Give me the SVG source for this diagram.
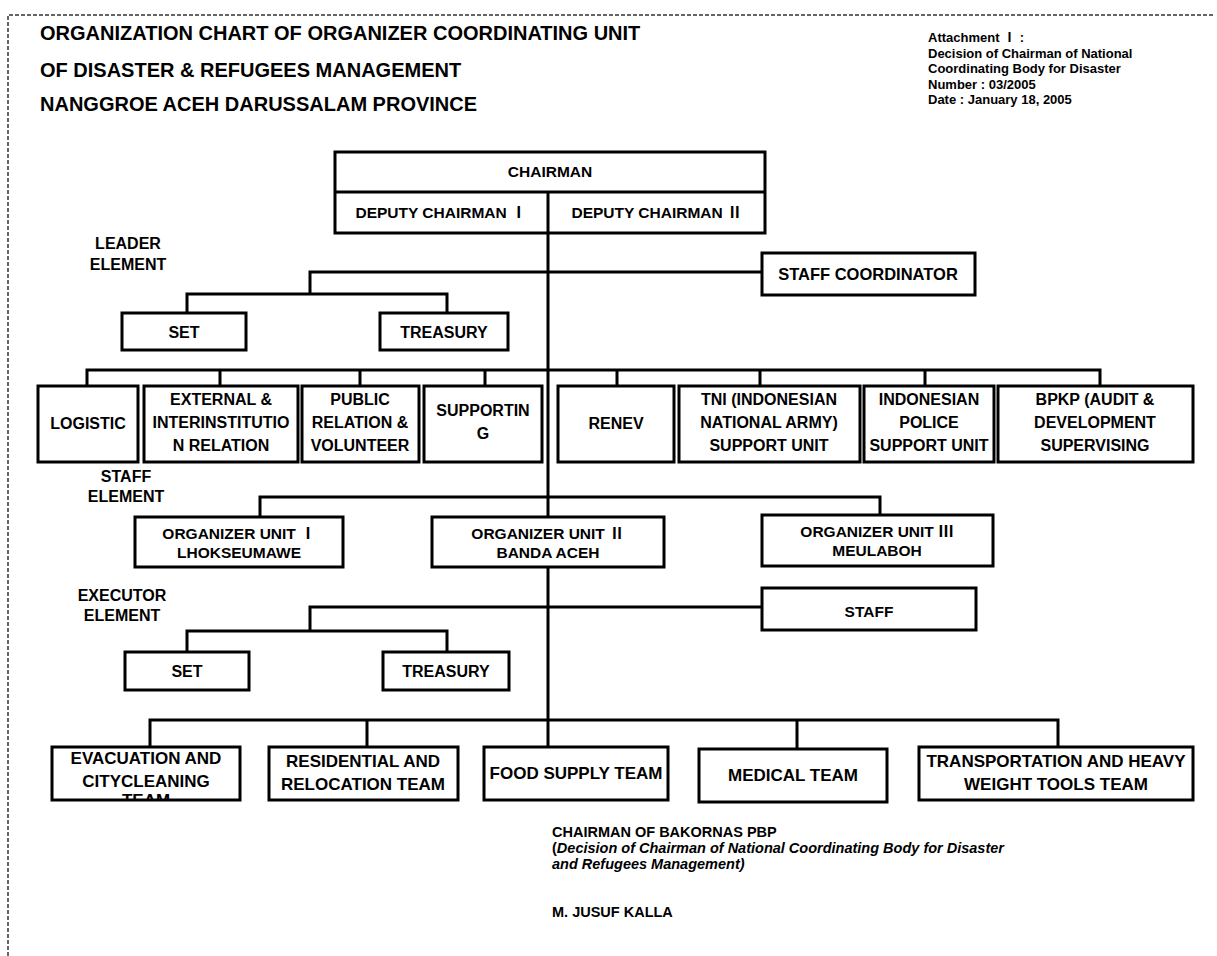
<svg xmlns="http://www.w3.org/2000/svg" width="1217" height="956" viewBox="0 0 1217 956">
<defs>
<style>
.box{fill:#fff;stroke:#000;stroke-width:3}
.ln{fill:none;stroke:#000;stroke-width:3}
text{font-family:"Liberation Sans","Noto Sans CJK JP",Arial,sans-serif;font-weight:bold;fill:#000}
.c{text-anchor:middle}
.ti{font-size:20px}
.g{font-size:16px}
.tm{font-size:17px}
.m{font-size:15.5px}
.a{font-size:13px}
.f{font-size:14.5px}
.it{font-style:italic}
</style>
<clipPath id="clipEvac"><rect x="53" y="748" width="186" height="51"/></clipPath>
</defs>
<rect width="1217" height="956" fill="#fff"/>
<path d="M8,956 V15 H1213" fill="none" stroke="#333" stroke-width="1.5" stroke-dasharray="4 2"/>

<g id="title">
<text class="ti" x="40" y="40">ORGANIZATION CHART OF ORGANIZER COORDINATING UNIT</text>
<text class="ti" x="40" y="77">OF DISASTER &amp; REFUGEES MANAGEMENT</text>
<text class="ti" x="40" y="111">NANGGROE ACEH DARUSSALAM PROVINCE</text>
</g>

<g id="attachment">
<text class="a" x="928" y="42">Attachment Ⅰ  :</text>
<text class="a" x="928" y="58">Decision of Chairman of National</text>
<text class="a" x="928" y="73">Coordinating Body for Disaster</text>
<text class="a" x="928" y="89">Number : 03/2005</text>
<text class="a" x="928" y="104">Date : January 18, 2005</text>
</g>

<g id="connectors">
<path class="ln" d="M548,233 V751"/>
<path class="ln" d="M310,294 V272 H762"/>
<path class="ln" d="M187,313 V294 H447 V313"/>
<path class="ln" d="M87,386 V370 H1100 V386"/>
<path class="ln" d="M220,370 V386 M360,370 V386 M485,370 V386 M617,370 V386 M760,370 V386 M925,370 V386"/>
<path class="ln" d="M260,517 V497 H880 V515"/>
<path class="ln" d="M310,631 V607 H762"/>
<path class="ln" d="M187,652 V631 H447 V652"/>
<path class="ln" d="M150,747 V720 H1058 V747"/>
<path class="ln" d="M367,720 V747 M797,720 V749"/>
</g>

<g id="chairman">
<rect class="box" x="335" y="152" width="430" height="81"/>
<path class="ln" d="M335,192 H765 M548,192 V233"/>
<text class="m c" x="550" y="177">CHAIRMAN</text>
<text class="m c" x="441" y="218">DEPUTY CHAIRMAN Ⅰ</text>
<text class="m c" x="657" y="218">DEPUTY CHAIRMAN Ⅱ</text>
</g>

<g id="leader-label">
<text class="g c" x="128" y="249">LEADER</text>
<text class="g c" x="128" y="270">ELEMENT</text>
</g>

<g id="staff-coordinator">
<rect class="box" x="762" y="253" width="213" height="42"/>
<text class="c" style="font-size:16.5px" x="868" y="280">STAFF COORDINATOR</text>
</g>

<g id="leader-set">
<rect class="box" x="122" y="313" width="124" height="37"/>
<text class="g c" x="184" y="338">SET</text>
</g>
<g id="leader-treasury">
<rect class="box" x="380" y="313" width="128" height="37"/>
<text class="g c" x="444" y="338">TREASURY</text>
</g>

<g id="logistic">
<rect class="box" x="38" y="386" width="100" height="76"/>
<text class="g c" x="88" y="429">LOGISTIC</text>
</g>
<g id="external">
<rect class="box" x="144" y="386" width="154" height="76"/>
<text class="g c" x="221" y="405">EXTERNAL &amp;</text>
<text class="g c" x="221" y="428">INTERINSTITUTIO</text>
<text class="g c" x="221" y="451">N RELATION</text>
</g>
<g id="public-relation">
<rect class="box" x="302" y="386" width="117" height="76"/>
<text class="g c" x="360" y="405">PUBLIC</text>
<text class="g c" x="360" y="428">RELATION &amp;</text>
<text class="g c" x="360" y="451">VOLUNTEER</text>
</g>
<g id="supporting">
<rect class="box" x="424" y="386" width="118" height="76"/>
<text class="g c" x="483" y="416">SUPPORTIN</text>
<text class="g c" x="483" y="439">G</text>
</g>
<g id="renev">
<rect class="box" x="558" y="386" width="116" height="76"/>
<text class="g c" x="616" y="429">RENEV</text>
</g>
<g id="tni">
<rect class="box" x="679" y="386" width="181" height="76"/>
<text class="g c" x="769" y="405">TNI (INDONESIAN</text>
<text class="g c" x="769" y="428">NATIONAL ARMY)</text>
<text class="g c" x="769" y="451">SUPPORT UNIT</text>
</g>
<g id="police">
<rect class="box" x="864" y="386" width="130" height="76"/>
<text class="g c" x="929" y="405">INDONESIAN</text>
<text class="g c" x="929" y="428">POLICE</text>
<text class="g c" x="929" y="451">SUPPORT UNIT</text>
</g>
<g id="bpkp">
<rect class="box" x="998" y="386" width="195" height="76"/>
<text class="g c" x="1095" y="405">BPKP (AUDIT &amp;</text>
<text class="g c" x="1095" y="428">DEVELOPMENT</text>
<text class="g c" x="1095" y="451">SUPERVISING</text>
</g>

<g id="staff-label">
<text class="g c" x="126" y="482">STAFF</text>
<text class="g c" x="126" y="502">ELEMENT</text>
</g>

<g id="org-unit-1">
<rect class="box" x="135" y="517" width="208" height="50"/>
<text class="m c" x="239" y="539">ORGANIZER UNIT Ⅰ</text>
<text class="m c" x="239" y="558">LHOKSEUMAWE</text>
</g>
<g id="org-unit-2">
<rect class="box" x="432" y="517" width="232" height="50"/>
<text class="m c" x="548" y="539">ORGANIZER UNIT Ⅱ</text>
<text class="m c" x="548" y="558">BANDA ACEH</text>
</g>
<g id="org-unit-3">
<rect class="box" x="762" y="515" width="231" height="51"/>
<text class="m c" x="877" y="537">ORGANIZER UNIT Ⅲ</text>
<text class="m c" x="877" y="556">MEULABOH</text>
</g>

<g id="executor-label">
<text class="g c" x="122" y="601">EXECUTOR</text>
<text class="g c" x="122" y="621">ELEMENT</text>
</g>

<g id="staff">
<rect class="box" x="762" y="588" width="214" height="42"/>
<text class="m c" x="869" y="617">STAFF</text>
</g>
<g id="exec-set">
<rect class="box" x="125" y="652" width="124" height="38"/>
<text class="g c" x="187" y="677">SET</text>
</g>
<g id="exec-treasury">
<rect class="box" x="383" y="652" width="126" height="38"/>
<text class="g c" x="446" y="677">TREASURY</text>
</g>

<g id="evacuation">
<rect class="box" x="52" y="747" width="188" height="53"/>
<g clip-path="url(#clipEvac)">
<text class="tm c" x="146" y="764">EVACUATION AND</text>
<text class="tm c" x="146" y="787">CITYCLEANING</text>
<text class="tm c" x="146" y="806">TEAM</text>
</g>
</g>
<g id="residential">
<rect class="box" x="269" y="747" width="189" height="53"/>
<text class="tm c" x="363" y="767">RESIDENTIAL AND</text>
<text class="tm c" x="363" y="790">RELOCATION TEAM</text>
</g>
<g id="food">
<rect class="box" x="484" y="747" width="184" height="53"/>
<text class="tm c" x="576" y="779">FOOD SUPPLY TEAM</text>
</g>
<g id="medical">
<rect class="box" x="699" y="749" width="188" height="53"/>
<text class="tm c" x="793" y="781">MEDICAL TEAM</text>
</g>
<g id="transport">
<rect class="box" x="919" y="747" width="274" height="53"/>
<text class="tm c" x="1056" y="767">TRANSPORTATION AND HEAVY</text>
<text class="tm c" x="1056" y="790">WEIGHT TOOLS TEAM</text>
</g>

<g id="signature">
<text class="f" x="552" y="837">CHAIRMAN OF BAKORNAS PBP</text>
<text class="f" x="552" y="853">(<tspan class="it">Decision of Chairman of National Coordinating Body for Disaster</tspan></text>
<text class="f it" x="552" y="869">and Refugees Management)</text>
<text class="f" x="552" y="917">M. JUSUF KALLA</text>
</g>
</svg>
